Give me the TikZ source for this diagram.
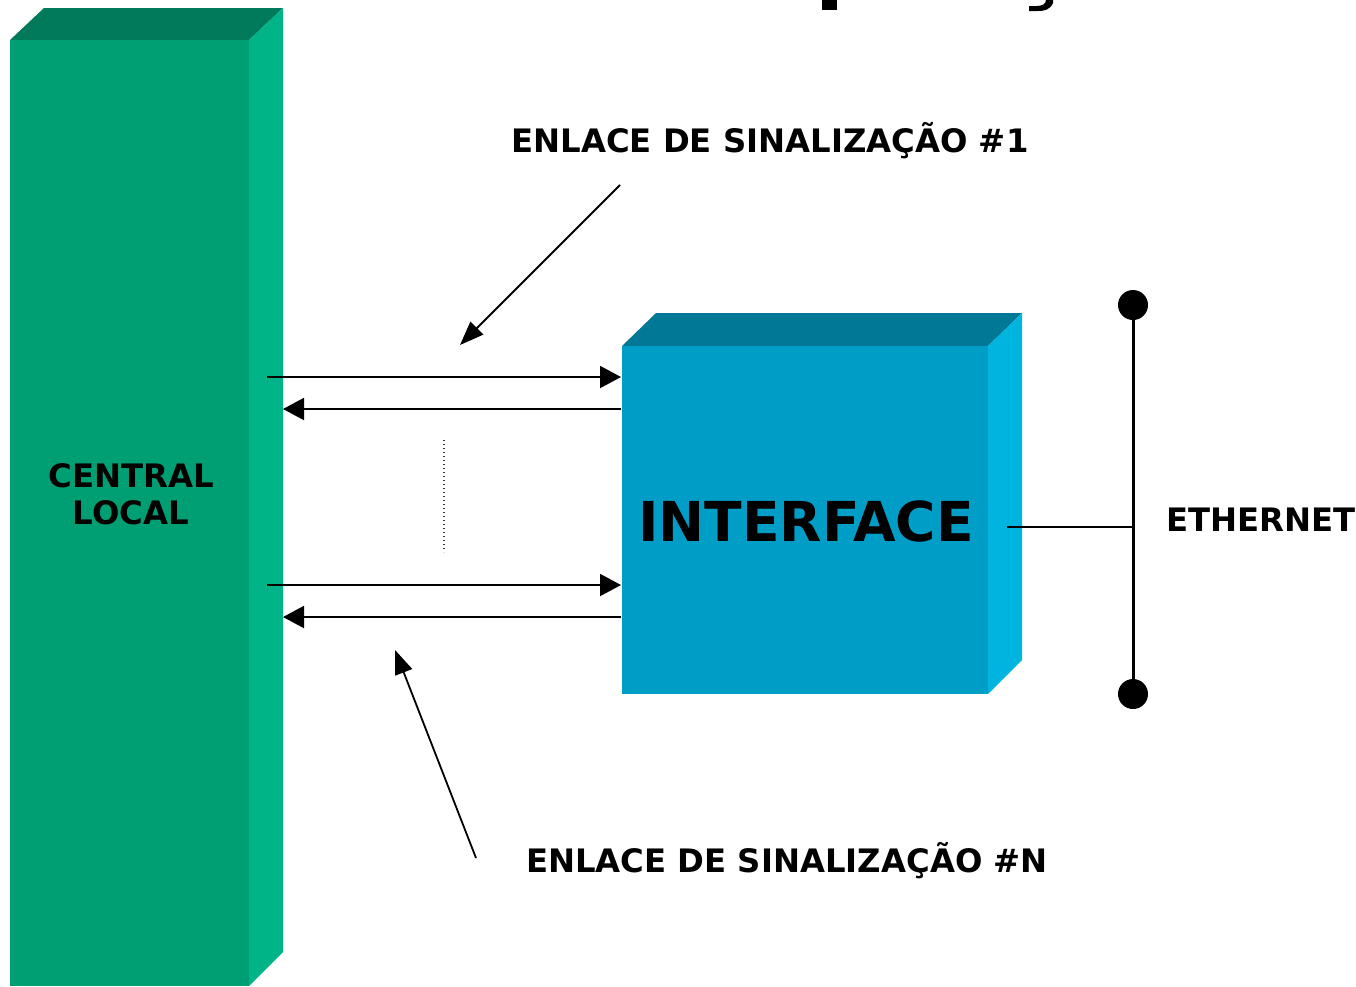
\documentclass[tikz,border=0pt]{standalone}
\usepackage{fontspec}
\setmainfont{DejaVu Sans}
\usetikzlibrary{arrows.meta}
\definecolor{gfront}{RGB}{0,158,115}
\definecolor{gtop}{RGB}{0,122,90}
\definecolor{gside}{RGB}{0,180,136}
\definecolor{bfront}{RGB}{0,157,198}
\definecolor{btop}{RGB}{0,120,150}
\definecolor{bside}{RGB}{0,180,224}
\begin{document}
\begin{tikzpicture}[x=1pt,y=-1pt,
  lbl/.style={font=\bfseries\fontsize{32.3}{38}\selectfont, text=black, inner sep=0pt, anchor=base},
  big/.style={font=\bfseries\fontsize{55}{60}\selectfont, text=black, inner sep=0pt, anchor=base},
  harr/.style={line width=2pt, -{Triangle[length=21pt,width=22pt]}},
  darr/.style={line width=1.8pt, -{Triangle[length=24pt,width=18pt]}},
  eline/.style={line width=3pt},
  dotline/.style={line width=1.2pt, dash pattern=on 1.3pt off 2.7pt, black!80}]
\useasboundingbox (0,0) rectangle (1356,986);
% title descenders (cut off)
\fill (822,0) rectangle (837,10);
\fill (1046,0) -- (1053,0) -- (1053,3) .. controls (1050,10) and (1044,11) .. (1038,11) -- (1029,11) -- (1029,6) -- (1037,6) .. controls (1042,6) and (1046,4) .. (1046,0) -- cycle;
% green block
\fill[gtop] (10,40) -- (44,8) -- (283,8) -- (249,40) -- cycle;
\fill[gside] (249,40) -- (283,8) -- (283,952) -- (249,986) -- cycle;
\fill[gfront] (10,40) rectangle (249,986);
\node[lbl] (central) at (131,487) {CENTRAL};
\node[lbl] (local) at (131,524) {LOCAL};
% blue block
\fill[btop] (622,346) -- (656,313) -- (1022,313) -- (988,346) -- cycle;
\fill[bside] (988,346) -- (1022,313) -- (1022,660) -- (988,694) -- cycle;
\fill[bfront] (622,346) rectangle (988,694);
\node[big] (iface) at (806,541) {INTERFACE};
% horizontal arrows
\coordinate (a1s) at (267,377); \coordinate (a1e) at (621,377);
\coordinate (b1s) at (621,409); \coordinate (b1e) at (283,409);
\coordinate (a2s) at (267,585); \coordinate (a2e) at (621,585);
\coordinate (b2s) at (621,617); \coordinate (b2e) at (283,617);
\draw[harr] (a1s) -- (a1e);
\draw[harr] (b1s) -- (b1e);
\draw[harr] (a2s) -- (a2e);
\draw[harr] (b2s) -- (b2e);
% dotted separator
\coordinate (d1) at (444,440); \coordinate (d2) at (444,552);
\draw[dotline] (d1) -- (d2);
% labels and pointers
\node[lbl] (l1) at (770,152) {ENLACE DE SINALIZAÇÃO \#1};
\node[lbl] (ln) at (787,872) {ENLACE DE SINALIZAÇÃO \#N};
\coordinate (p1s) at (620,185); \coordinate (p1e) at (460,345);
\coordinate (pns) at (476,858); \coordinate (pne) at (395,650);
\draw[darr] (p1s) -- (p1e);
\draw[darr] (pns) -- (pne);
% ethernet
\coordinate (et) at (1133,305); \coordinate (eb) at (1133,694);
\coordinate (em) at (1133,527); \coordinate (ei) at (1007,527);
\draw[eline] (et) -- (eb);
\draw[line width=2.2pt] (ei) -- (em);
\fill (et) circle (15);
\fill (eb) circle (15);
\node[lbl, anchor=base west] (eth) at (1166,531) {ETHERNET};
\end{tikzpicture}
\end{document}
